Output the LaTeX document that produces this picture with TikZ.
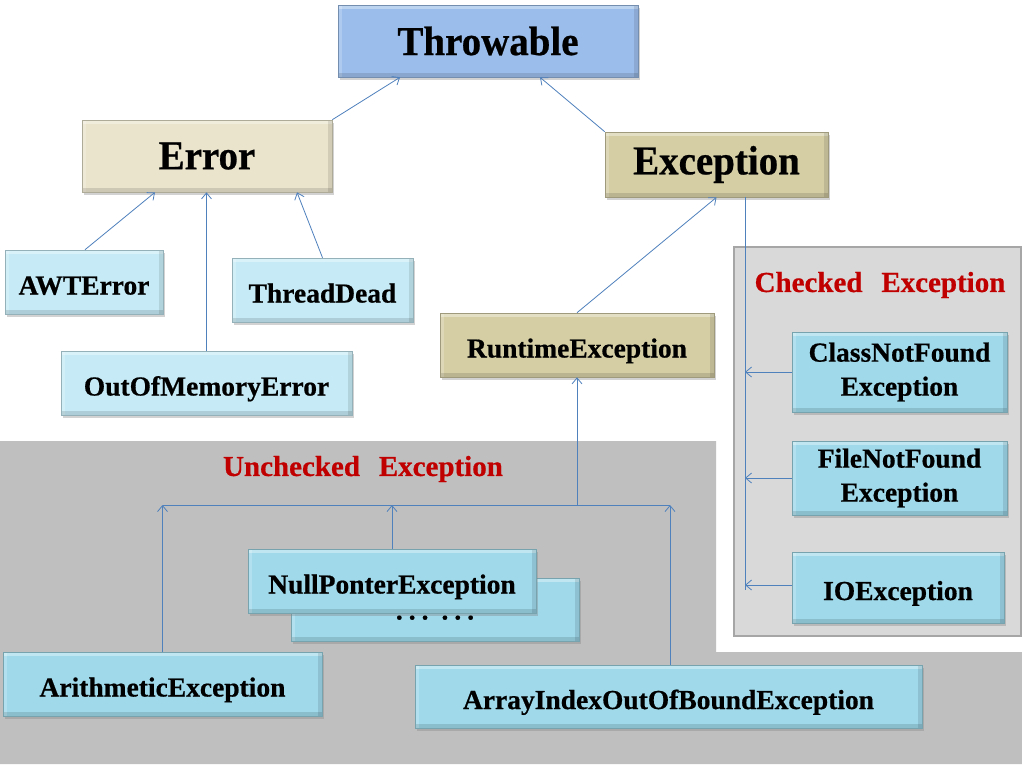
\documentclass[tikz,border=0pt]{standalone}
\usepackage{fontspec}
\setmainfont{Liberation Serif}[BoldFeatures={FakeBold=0.6}]
\newfontfamily\bigfont{Liberation Serif}[BoldFeatures={FakeBold=0.6,FakeStretch=0.95}]
\usetikzlibrary{arrows.meta,shadows}
\definecolor{thrC}{HTML}{9BBDEB}
\definecolor{errC}{HTML}{EAE4CC}
\definecolor{excC}{HTML}{D5CEA5}
\definecolor{lcyan}{HTML}{C6EBF6}
\definecolor{dcyan}{HTML}{9FD9EA}
\definecolor{lineC}{HTML}{4F81BD}
\definecolor{redC}{HTML}{C00000}
\definecolor{uncC}{HTML}{BFBFBF}
\definecolor{chkC}{HTML}{D9D9D9}
\definecolor{chkB}{HTML}{A6A6A6}
\newcommand{\dg}{\hspace{6pt}}
\newcommand{\dG}{\hspace{13pt}}
\tikzset{
  box/.style={draw=#1!75!black, fill=#1, line width=0.6pt, inner sep=0pt,
    align=center, drop shadow={shadow xshift=2pt, shadow yshift=-3pt, opacity=0.35},
    path picture={
      \fill[white, opacity=0.35] (path picture bounding box.north west) rectangle ([yshift=-4pt]path picture bounding box.north east);
      \fill[white, opacity=0.2] (path picture bounding box.north west) rectangle ([xshift=4pt]path picture bounding box.south west);
      \fill[black, opacity=0.12] ([yshift=4pt]path picture bounding box.south west) rectangle (path picture bounding box.south east);
      \fill[black, opacity=0.1] ([xshift=-4pt]path picture bounding box.north east) rectangle (path picture bounding box.south east);
    }},
  bigtxt/.style={font=\bigfont\fontsize{41}{43}\selectfont\bfseries},
  midtxt/.style={font=\fontsize{27.5}{34}\selectfont\bfseries},
  oneline/.style={text height=25pt, text depth=0pt},
  lbl/.style={font=\fontsize{29}{32}\selectfont\bfseries, text=redC, inner sep=0pt},
  conn/.style={draw=lineC, line width=0.8pt, -{Straight Barb[length=6pt,width=10pt]}},
  plain/.style={draw=lineC, line width=0.8pt},
}
\begin{document}
\begin{tikzpicture}[x=1pt,y=-1pt]
\useasboundingbox (0,0) rectangle (1022,764);
\fill[white] (0,0) rectangle (1022,764);
% backgrounds
\fill[uncC] (0,441) -- (716,441) -- (716,652) -- (1022,652) -- (1022,764) -- (0,764) -- cycle;
\filldraw[fill=chkC, draw=chkB, line width=1.5pt] (734,247) rectangle (1021,636);
\node[lbl] (chklbl) at (880,285) {Checked\hspace{0.4em} Exception};
\node[lbl] (unclbl) at (363,469) {Unchecked\hspace{0.4em} Exception};

% nodes
\node[box=thrC, bigtxt, minimum width=300, minimum height=72] (thr) at (488,41) {Throwable};
\node[box=errC, bigtxt, minimum width=250, minimum height=72] (err) at (207,156) {Error};
\node[box=excC, bigtxt, minimum width=223, minimum height=65] (exc) at (716.5,164.5) {Exception};
\node[box=lcyan, midtxt, oneline, minimum width=158, minimum height=64] (awt) at (84,282) {AWTError};
\node[box=lcyan, midtxt, oneline, minimum width=181, minimum height=64] (td) at (322.5,290) {ThreadDead};
\node[box=lcyan, midtxt, oneline, minimum width=291, minimum height=64] (oom) at (206.5,383) {OutOfMemoryError};
\node[box=excC, midtxt, oneline, minimum width=274, minimum height=64] (rt) at (577,345) {RuntimeException};
\node[box=dcyan, midtxt, minimum width=215, minimum height=80] (cnf) at (899.5,372) {ClassNotFound\\Exception};
\node[box=dcyan, midtxt, minimum width=215, minimum height=74] (fnf) at (899.5,478) {FileNotFound\\Exception};
\node[box=dcyan, midtxt, oneline, minimum width=212, minimum height=71] (ioe) at (898,587.5) {IOException};
\node[box=dcyan, midtxt, minimum width=288, minimum height=63, text height=0pt, text depth=0pt] (dots) at (435,609.5) {\raisebox{-10pt}{.\dg.\dg.\dG.\dg.\dg.}};
\node[box=dcyan, midtxt, oneline, minimum width=288, minimum height=64] (npe) at (392,581) {NullPonterException};
\node[box=dcyan, midtxt, oneline, minimum width=319, minimum height=64] (ari) at (162.5,684) {ArithmeticException};
\node[box=dcyan, midtxt, oneline, minimum width=507, minimum height=63] (aio) at (668.5,696.5) {ArrayIndexOutOfBoundException};

% connectors
\draw[conn] (err.north east) -- ([xshift=-88pt]thr.south);
\draw[conn] (exc.north west) -- ([xshift=52pt]thr.south);
\draw[conn] ([xshift=1pt]awt.north) -- ([xshift=-52pt]err.south);
\draw[conn] (oom.north) -- (oom.north |- err.south);
\draw[conn] (td.north) -- ([xshift=90pt]err.south);
\draw[conn] (rt.north) -- (exc.south);

\coordinate (spine) at (745,590);
\draw[plain] (exc.south -| spine) -- (spine);
\draw[conn] (cnf.west) -- (cnf.west -| spine);
\draw[conn] (fnf.west) -- (fnf.west -| spine);
\draw[conn] ([yshift=2.5pt]ioe.west) -- ([yshift=2.5pt]ioe.west -| spine);

\coordinate (bus) at (577,505);
\coordinate (busL) at (163,505);
\coordinate (busR) at (670,505);
\draw[plain] (busL) -- (busR);
\draw[conn] (bus) -- (rt.south);
\draw[conn] (ari.north) -- (ari.north |- bus);
\draw[conn] (npe.north) -- (npe.north |- bus);
\draw[conn] ([xshift=1.5pt]aio.north) -- ([xshift=1.5pt]aio.north |- bus);
\end{tikzpicture}
\end{document}
